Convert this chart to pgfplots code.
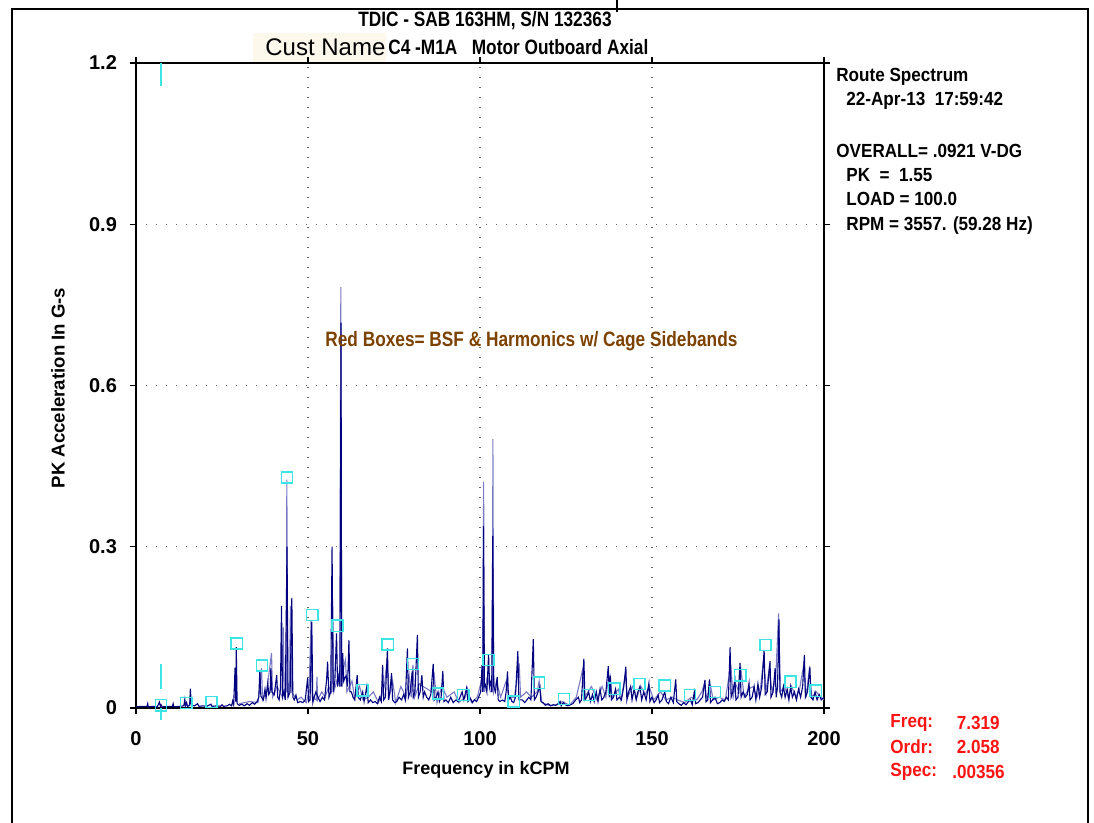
\documentclass[border=0pt]{standalone}
\usepackage{pgfplots}
\pgfplotsset{compat=1.18}
\usepackage{pgfplotstable}
\usepackage{fontspec}
\setmainfont{Liberation Sans}
\newfontfamily\condfont[FakeStretch=0.83]{Liberation Sans}
\newfontfamily\semifont[FakeStretch=0.9]{Liberation Sans}
\definecolor{navy}{RGB}{0,0,128}
\definecolor{lav}{RGB}{122,122,196}
\definecolor{cyanbox}{RGB}{60,228,228}
\definecolor{brownt}{RGB}{125,65,0}
\definecolor{cream}{RGB}{253,248,236}
\definecolor{redt}{RGB}{255,20,20}

\pgfplotstableread[row sep=\\]{
x y\\
0 0.002\\ 1.5 0.003\\ 3.2 0.003\\ 3.4 0.008\\ 3.6 0.002\\ 5.0 0.003\\ 6.2 0.002\\ 6.8 0.011\\ 7.1 0.003\\ 7.3 0.006\\ 7.6 0.002\\ 9.0 0.003\\
10.6 0.003\\ 10.8 0.008\\ 11.0 0.002\\ 12.6 0.003\\ 13.9 0.004\\ 14.2 0.016\\ 14.4 0.004\\ 14.7 0.010\\ 15.0 0.003\\ 15.6 0.005\\ 15.8 0.036\\ 16.1 0.005\\
17.0 0.004\\ 17.9 0.008\\ 18.3 0.003\\ 19.5 0.004\\ 20.5 0.003\\ 21.8 0.007\\ 22.1 0.003\\ 23.5 0.004\\ 24.6 0.003\\ 25.0 0.006\\ 25.4 0.003\\ 26.5 0.004\\
27.2 0.007\\ 27.8 0.004\\ 28.1 0.013\\ 28.4 0.006\\ 28.8 0.075\\ 29.0 0.012\\ 29.15 0.113\\ 29.4 0.008\\ 30.0 0.005\\ 30.8 0.007\\ 31.5 0.004\\ 32.3 0.008\\
33.0 0.005\\ 33.8 0.010\\ 34.5 0.007\\ 35.2 0.012\\ 35.7 0.020\\ 36.0 0.071\\ 36.3 0.022\\ 37.0 0.015\\ 37.5 0.035\\ 37.8 0.018\\ 38.3 0.046\\ 38.6 0.025\\
39.0 0.030\\ 39.2 0.074\\ 39.5 0.030\\ 40.2 0.025\\ 40.9 0.061\\ 41.2 0.020\\ 41.6 0.015\\ 42.0 0.035\\ 42.3 0.190\\ 42.6 0.020\\ 43.0 0.030\\ 43.4 0.015\\
43.9 0.300\\ 44.2 0.020\\ 44.8 0.030\\ 45.3 0.205\\ 45.6 0.020\\ 46.0 0.015\\ 46.5 0.024\\ 47.0 0.010\\ 47.8 0.012\\ 48.5 0.010\\ 49.2 0.015\\ 49.9 0.056\\
50.2 0.012\\ 50.6 0.015\\ 51.1 0.160\\ 51.4 0.010\\ 51.8 0.020\\ 52.3 0.030\\ 52.9 0.020\\ 53.5 0.012\\ 54.2 0.020\\ 54.8 0.015\\ 55.4 0.052\\ 55.7 0.086\\
56.1 0.020\\ 56.6 0.030\\ 57.0 0.300\\ 57.3 0.030\\ 57.8 0.050\\ 58.3 0.139\\ 58.6 0.040\\ 59.0 0.060\\ 59.3 0.040\\ 59.6 0.717\\ 59.8 0.040\\ 60.1 0.102\\
60.4 0.050\\ 60.7 0.056\\ 61.1 0.060\\ 61.5 0.040\\ 61.9 0.126\\ 62.2 0.030\\ 62.6 0.030\\ 63.1 0.020\\ 63.6 0.015\\ 64.3 0.061\\ 64.6 0.020\\ 65.2 0.015\\
65.9 0.030\\ 66.3 0.012\\ 67.1 0.040\\ 67.5 0.010\\ 68.2 0.015\\ 68.8 0.010\\ 69.5 0.012\\ 70.2 0.008\\ 70.8 0.020\\ 71.3 0.012\\ 71.7 0.080\\ 72.0 0.015\\
72.5 0.020\\ 73.1 0.111\\ 73.4 0.015\\ 73.8 0.030\\ 74.3 0.065\\ 74.6 0.015\\ 75.2 0.010\\ 75.8 0.012\\ 76.5 0.020\\ 77.2 0.015\\ 77.8 0.025\\ 78.3 0.015\\
78.9 0.111\\ 79.2 0.020\\ 79.7 0.030\\ 80.3 0.068\\ 80.6 0.020\\ 81.1 0.030\\ 81.8 0.136\\ 82.1 0.020\\ 82.6 0.030\\ 83.1 0.061\\ 83.5 0.020\\ 83.9 0.030\\
84.5 0.020\\ 85.1 0.015\\ 85.7 0.025\\ 86.4 0.082\\ 86.7 0.015\\ 87.2 0.020\\ 87.8 0.030\\ 88.2 0.012\\ 88.7 0.020\\ 89.2 0.069\\ 89.5 0.012\\ 90.1 0.015\\
90.8 0.010\\ 91.5 0.020\\ 92.2 0.010\\ 93.0 0.015\\ 93.6 0.012\\ 94.2 0.020\\ 94.8 0.030\\ 95.3 0.015\\ 96.1 0.037\\ 96.5 0.012\\ 97.2 0.018\\ 97.8 0.010\\
98.4 0.015\\ 99.0 0.012\\ 99.6 0.020\\ 100.2 0.030\\ 100.6 0.080\\ 100.8 0.030\\ 101.0 0.339\\ 101.3 0.040\\ 101.6 0.043\\ 102.0 0.030\\ 102.5 0.100\\ 102.8 0.040\\
103.2 0.050\\ 103.4 0.030\\ 103.7 0.320\\ 104.0 0.040\\ 104.5 0.030\\ 105.0 0.058\\ 105.3 0.015\\ 105.8 0.012\\ 106.5 0.015\\ 107.2 0.012\\ 107.6 0.030\\ 108.0 0.068\\
108.3 0.015\\ 108.8 0.020\\ 109.3 0.012\\ 109.8 0.010\\ 110.3 0.020\\ 111.0 0.106\\ 111.3 0.015\\ 111.7 0.015\\ 112.3 0.015\\ 113.0 0.010\\ 113.6 0.015\\ 114.2 0.020\\
114.8 0.015\\ 115.5 0.128\\ 115.8 0.015\\ 116.3 0.020\\ 116.9 0.030\\ 117.4 0.040\\ 117.7 0.012\\ 118.3 0.010\\ 119.0 0.005\\ 119.8 0.008\\ 120.5 0.004\\ 121.3 0.006\\
122.0 0.005\\ 122.7 0.008\\ 123.3 0.012\\ 123.6 0.004\\ 124.2 0.010\\ 124.8 0.006\\ 125.5 0.004\\ 126.3 0.006\\ 127.0 0.008\\ 127.8 0.015\\ 128.6 0.020\\ 129.0 0.010\\
129.5 0.015\\ 130.2 0.092\\ 130.5 0.015\\ 131.0 0.020\\ 131.6 0.030\\ 132.1 0.012\\ 132.7 0.025\\ 133.2 0.012\\ 133.8 0.030\\ 134.3 0.012\\ 134.9 0.035\\ 135.4 0.015\\
136.0 0.020\\ 136.6 0.030\\ 137.3 0.078\\ 137.6 0.020\\ 137.9 0.060\\ 138.2 0.015\\ 138.8 0.020\\ 139.4 0.035\\ 139.8 0.015\\ 140.5 0.020\\ 141.1 0.015\\ 141.8 0.040\\
142.4 0.077\\ 142.7 0.015\\ 143.2 0.030\\ 143.8 0.040\\ 144.2 0.015\\ 144.8 0.035\\ 145.4 0.015\\ 145.9 0.030\\ 146.5 0.040\\ 147.0 0.015\\ 147.6 0.030\\ 148.3 0.015\\
149.1 0.046\\ 149.4 0.012\\ 150.0 0.020\\ 150.6 0.010\\ 151.2 0.015\\ 151.8 0.024\\ 152.2 0.010\\ 152.9 0.015\\ 153.7 0.030\\ 154.2 0.012\\ 154.8 0.008\\ 155.5 0.020\\
156.2 0.010\\ 156.9 0.053\\ 157.2 0.012\\ 157.8 0.008\\ 158.5 0.005\\ 159.2 0.010\\ 159.9 0.006\\ 160.6 0.012\\ 161.2 0.015\\ 161.7 0.006\\ 162.3 0.030\\ 162.7 0.008\\
163.4 0.010\\ 164.0 0.015\\ 164.7 0.020\\ 165.4 0.052\\ 165.7 0.012\\ 166.2 0.015\\ 166.7 0.053\\ 167.0 0.010\\ 167.6 0.015\\ 168.3 0.020\\ 169.0 0.008\\ 169.7 0.010\\
170.4 0.015\\ 171.0 0.012\\ 171.6 0.020\\ 172.2 0.015\\ 172.7 0.113\\ 173.0 0.020\\ 173.5 0.030\\ 174.1 0.052\\ 174.4 0.015\\ 175.0 0.020\\ 175.6 0.084\\ 175.9 0.020\\
176.5 0.030\\ 177.1 0.020\\ 177.7 0.025\\ 178.2 0.046\\ 178.5 0.015\\ 179.1 0.020\\ 179.7 0.040\\ 180.2 0.015\\ 180.8 0.045\\ 181.3 0.020\\ 181.9 0.040\\ 182.6 0.108\\
182.9 0.025\\ 183.5 0.030\\ 184.3 0.087\\ 184.6 0.020\\ 185.2 0.030\\ 185.8 0.074\\ 186.1 0.020\\ 186.5 0.040\\ 186.9 0.165\\ 187.2 0.030\\ 187.7 0.020\\ 188.2 0.040\\
188.7 0.020\\ 189.3 0.035\\ 189.8 0.015\\ 190.3 0.040\\ 190.8 0.020\\ 191.4 0.030\\ 192.0 0.015\\ 192.6 0.035\\ 193.2 0.020\\ 193.8 0.040\\ 194.3 0.099\\ 194.6 0.020\\
195.2 0.030\\ 195.9 0.077\\ 196.2 0.020\\ 196.8 0.015\\ 197.4 0.030\\ 198.0 0.015\\ 198.6 0.025\\ 199.2 0.015\\ 200 0.020\\
}\darkdata

\pgfplotstableread[row sep=\\]{
x y\\
30 0.008\\ 33 0.012\\ 35.5 0.010\\ 36.5 0.074\\ 36.8 0.015\\ 38.0 0.030\\ 39.4 0.102\\ 39.7 0.020\\ 41.0 0.040\\ 42.6 0.020\\ 42.8 0.150\\ 43.1 0.030\\
43.7 0.030\\ 43.85 0.425\\ 44.1 0.030\\ 44.6 0.030\\ 44.9 0.190\\ 45.2 0.030\\ 46.8 0.015\\ 48.0 0.020\\ 49.5 0.010\\ 50.3 0.030\\ 50.9 0.164\\ 51.2 0.020\\
52.4 0.015\\ 52.6 0.058\\ 52.8 0.015\\ 54.0 0.030\\ 55.0 0.020\\ 56.0 0.040\\ 56.8 0.030\\ 57.2 0.188\\ 57.5 0.030\\ 58.8 0.060\\ 59.2 0.040\\ 59.55 0.783\\
59.8 0.040\\ 60.5 0.080\\ 60.9 0.090\\ 61.3 0.030\\ 62.8 0.050\\ 63.5 0.020\\ 65.0 0.040\\ 66.0 0.015\\ 67.5 0.020\\ 69.0 0.030\\ 70.5 0.010\\ 72.2 0.040\\
73.0 0.090\\ 73.6 0.020\\ 74.6 0.050\\ 75.5 0.010\\ 77.0 0.040\\ 78.5 0.020\\ 79.4 0.060\\ 80.0 0.020\\ 80.5 0.080\\ 81.0 0.020\\ 82.4 0.045\\ 83.4 0.040\\
84.8 0.035\\ 86.0 0.030\\ 86.7 0.060\\ 87.5 0.010\\ 88.9 0.040\\ 90.4 0.020\\ 92.5 0.030\\ 93.8 0.010\\ 95.7 0.020\\ 96.3 0.037\\ 97.5 0.010\\ 99.2 0.020\\
100.4 0.050\\ 100.9 0.030\\ 101.05 0.421\\ 101.3 0.030\\ 102.2 0.060\\ 103.0 0.030\\ 103.6 0.030\\ 103.75 0.500\\ 104.0 0.030\\ 104.8 0.050\\ 106.0 0.020\\ 107.6 0.050\\
108.4 0.020\\ 110.0 0.020\\ 111.4 0.083\\ 111.8 0.020\\ 113.5 0.030\\ 115.0 0.020\\ 116.6 0.030\\ 117.2 0.050\\ 118.0 0.010\\ 120.0 0.005\\ 122.5 0.006\\ 124.0 0.012\\
126.0 0.005\\ 128.0 0.020\\ 129.8 0.070\\ 130.4 0.020\\ 132.4 0.040\\ 134.0 0.015\\ 135.5 0.040\\ 136.6 0.020\\ 137.0 0.040\\ 137.8 0.060\\ 138.4 0.020\\ 140.2 0.035\\
141.0 0.015\\ 142.2 0.060\\ 142.9 0.020\\ 144.4 0.040\\ 145.6 0.020\\ 146.8 0.040\\ 148.0 0.025\\ 149.2 0.040\\ 150.5 0.015\\ 152.5 0.030\\ 154.0 0.015\\ 155.9 0.020\\
157.5 0.015\\ 159.5 0.010\\ 161.4 0.020\\ 163.0 0.015\\ 164.5 0.030\\ 165.2 0.045\\ 166.0 0.015\\ 166.9 0.045\\ 167.8 0.015\\ 169.5 0.020\\ 171.3 0.015\\ 172.9 0.080\\
173.6 0.020\\ 174.3 0.045\\ 175.3 0.030\\ 175.9 0.070\\ 176.8 0.020\\ 178.0 0.035\\ 179.4 0.040\\ 180.5 0.020\\ 181.6 0.040\\ 182.4 0.090\\ 183.2 0.030\\ 184.0 0.070\\
185.0 0.030\\ 186.0 0.060\\ 186.8 0.176\\ 187.3 0.030\\ 188.5 0.040\\ 189.6 0.020\\ 190.6 0.040\\ 191.8 0.020\\ 192.9 0.035\\ 194.1 0.080\\ 194.8 0.020\\ 195.7 0.070\\
196.5 0.020\\ 197.8 0.030\\ 199.0 0.020\\ 200 0.015\\
}\lightdata

\pgfplotstableread[row sep=\\]{
x y\\
7.319 0.005\\ 14.64 0.009\\ 21.96 0.011\\ 29.28 0.120\\ 36.60 0.079\\ 43.91 0.429\\ 51.23 0.173\\ 58.55 0.153\\ 65.87 0.033\\
73.19 0.118\\ 80.51 0.082\\ 87.83 0.027\\ 95.15 0.024\\ 102.47 0.089\\ 109.79 0.012\\ 117.10 0.047\\ 124.42 0.017\\ 131.74 0.024\\
139.06 0.036\\ 146.38 0.045\\ 153.70 0.042\\ 161.02 0.024\\ 168.34 0.030\\ 175.66 0.061\\ 182.98 0.117\\ 190.29 0.049\\ 197.61 0.032\\
}\boxdata

\begin{document}
\begin{tikzpicture}
% pixel-based frame: (px,py) -> axis-origin-relative
\begin{scope}[x=0.5pt,y=-0.5pt,shift={(-68pt,354pt)}]
\path[use as bounding box] (0,0) rectangle (1094,823);
\draw[line width=1pt] (12,823) -- (12,9) -- (1088,9) -- (1088,823);
\draw[line width=1.2pt] (617,0) -- (617,12);
\fill[cream] (253,33) rectangle (386,62);
\end{scope}

\begin{axis}[
  at={(0,0)}, anchor=south west,
  scale only axis, width=344pt, height=322.5pt,
  xmin=0, xmax=200, ymin=0, ymax=1.2,
  xtick={0,50,100,150,200}, ytick={0,0.3,0.6,0.9,1.2},
  tick align=outside, major tick length=3pt,
  tick style={black, line width=0.6pt},
  grid=major,
  major grid style={black!60, line width=0.6pt, dash pattern=on 0.6pt off 4.4pt},
  axis line style={black, line width=0.7pt},
  /pgf/number format/assume math mode=true,
  ticklabel style={font=\fontsize{10}{12}\selectfont\bfseries},
  xticklabel style={yshift=-5pt},
  yticklabel style={xshift=-3pt},
  clip mode=individual,
]
\addplot[lav, line width=0.55pt] table[x=x,y=y] {\lightdata};
\addplot[navy, line width=0.55pt] table[x=x,y=y] {\darkdata};
\addplot[only marks, mark=square, mark size=2.8pt, mark options={draw=cyanbox, line width=0.7pt}] table[x=x,y=y] {\boxdata};
\addplot[cyanbox, line width=0.7pt, forget plot] coordinates {(7.319,1.2) (7.319,1.158)};
\addplot[cyanbox, line width=0.7pt, forget plot] coordinates {(7.319,0.082) (7.319,0.035)};
\addplot[cyanbox, line width=0.7pt, forget plot, clip=false] coordinates {(7.319,0) (7.319,-0.022)};
\end{axis}

\begin{scope}[x=0.5pt,y=-0.5pt,shift={(-68pt,354pt)}]
\node[font=\condfont\bfseries\fontsize{10.4}{12}\selectfont] at (485,21) {TDIC - SAB 163HM, S/N 132363};
\node[anchor=west, inner sep=0pt, font=\fontsize{12}{14}\selectfont] at (265,47) {Cust Name};
\node[anchor=west, inner sep=0pt, font=\condfont\bfseries\fontsize{10.4}{12}\selectfont] at (388,47) {C4 -M1A\ \ \ Motor Outboard Axial};
\node[anchor=west, inner sep=0pt, text=brownt, font=\condfont\bfseries\fontsize{10.4}{12}\selectfont] at (325,341) {Red Boxes= BSF \& Harmonics w/ Cage Sidebands};
\begin{scope}[every node/.style={anchor=west, inner sep=0pt, font=\semifont\bfseries\fontsize{9.5}{11}\selectfont}]
\node at (836,77) {Route Spectrum};
\node at (846,101) {22-Apr-13\ \ 17:59:42};
\node at (836,151) {OVERALL= .0921 V-DG};
\node at (846,175) {PK\ \ =\ \ 1.55};
\node at (846,199) {LOAD = 100.0};
\node at (846,226) {RPM = 3557. (59.28 Hz)};
\node[text=redt] at (890,723) {Freq:};
\node[text=redt] at (890,747) {Ordr:};
\node[text=redt] at (890,772) {Spec:};
\end{scope}
\begin{scope}[every node/.style={anchor=east, inner sep=0pt, text=redt, font=\semifont\bfseries\fontsize{9.5}{11}\selectfont}]
\node at (1000,723) {7.319};
\node at (1000,747) {2.058};
\node at (1005,772) {.00356};
\end{scope}
\node[rotate=90, font=\bfseries\fontsize{9.3}{11}\selectfont] at (58,388) {PK Acceleration In G-s};
\node[font=\bfseries\fontsize{9}{11}\selectfont] at (486,770) {Frequency in kCPM};
\end{scope}
\end{tikzpicture}
\end{document}
